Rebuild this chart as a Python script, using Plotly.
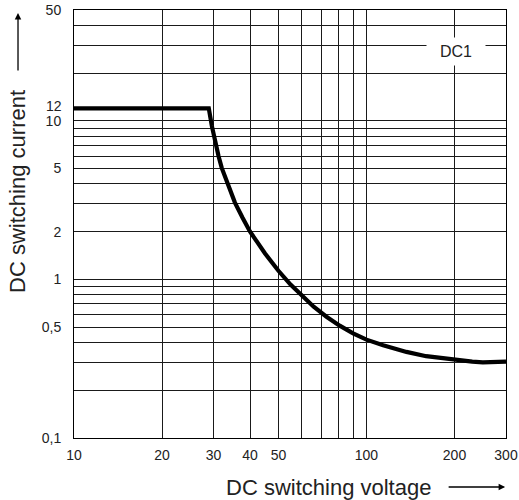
import math
import plotly.graph_objects as go

# Curve data (DC1 load limit)
voltage = [10, 28.9, 29.6, 30.5, 31.2, 32.0, 33.5, 35.5, 37.7, 40, 45, 50, 55, 60, 66, 73, 81, 90,
           100, 114, 125, 137, 160, 193, 203, 230, 250, 275, 300]
current = [12, 12, 9.3, 7.1, 6.0, 5.05, 4.0, 3.05, 2.45, 2.0, 1.457, 1.134, 0.928, 0.789, 0.673, 0.582, 0.511, 0.457,
           0.417, 0.385, 0.364, 0.349, 0.328, 0.314, 0.310, 0.303, 0.300, 0.300, 0.303]

# Axis grid / tick definitions
x_grid = [10, 20, 30, 40, 50, 60, 70, 80, 90, 100, 200, 300]
x_labels = ["10", "20", "30", "40", "50", "", "", "", "", "100", "200", "300"]
y_grid = [0.1, 0.2, 0.3, 0.4, 0.5, 0.6, 0.7, 0.8, 0.9, 1, 2, 3, 4, 5, 6, 7, 8, 9, 10, 20, 30, 40, 50]
y_labels = ["0,1", "", "", "", "0,5", "", "", "", "", "1", "2", "", "", "5", "", "", "", "", "10", "", "", "", "50"]
extra_y_label = 12
series_name = "DC1"
label_pos = (202, 27.5)

FONT = "Arial, Liberation Sans, sans-serif"
GRID = "#1a1a1a"

fig = go.Figure()
fig.add_trace(go.Scatter(
    x=voltage, y=current, mode="lines",
    line=dict(color="black", width=4.2, shape="linear"),
    showlegend=False, hoverinfo="skip",
))

fig.update_xaxes(
    type="log", range=[math.log10(10), math.log10(300)],
    tickmode="array", tickvals=x_grid, ticktext=x_labels,
    showgrid=True, gridcolor=GRID, gridwidth=1,
    showline=True, linecolor="black", linewidth=1, mirror=True,
    ticks="", ticklabelstandoff=4, automargin=False,
    tickfont=dict(family=FONT, size=14, color="#222"),
    zeroline=False,
)
fig.update_yaxes(
    type="log", range=[math.log10(0.1), math.log10(50)],
    tickmode="array", tickvals=y_grid, ticktext=y_labels,
    showgrid=True, gridcolor=GRID, gridwidth=1,
    showline=True, linecolor="black", linewidth=1, mirror=True,
    ticks="", ticklabelstandoff=9, automargin=False,
    tickfont=dict(family=FONT, size=14, color="#222"),
    zeroline=False,
)

annotations = [
    # extra "12" tick label without grid line
    dict(xref="paper", yref="y", x=0, y=math.log10(extra_y_label), text=str(extra_y_label),
         showarrow=False, xanchor="right", yanchor="middle", xshift=-10, yshift=2,
         font=dict(family=FONT, size=14, color="#222")),
    # DC1 label with white box
    dict(xref="x", yref="y", x=math.log10(label_pos[0]), y=math.log10(label_pos[1]), text=series_name,
         showarrow=False, bgcolor="white", width=58, height=27, borderpad=0,
         font=dict(family=FONT, size=16, color="#222")),
    # y-axis title
    dict(xref="paper", yref="paper", x=-0.1296, y=0.575, text="DC switching current",
         textangle=-90, showarrow=False, xanchor="center", yanchor="middle",
         font=dict(family=FONT, size=22, color="#222")),
    dict(xref="paper", yref="paper", x=-0.1296, y=0.993, text="", showarrow=True,
         ax=0, ay=59, arrowhead=2, arrowsize=1, arrowwidth=1.3, arrowcolor="black"),
    # x-axis title
    dict(xref="paper", yref="paper", x=0.588, y=-0.1145, text="DC switching voltage",
         showarrow=False, xanchor="center", yanchor="middle",
         font=dict(family=FONT, size=22, color="#222")),
    dict(xref="paper", yref="paper", x=0.998, y=-0.1145, text="", showarrow=True,
         ax=-58, ay=0, arrowhead=2, arrowsize=1, arrowwidth=1.3, arrowcolor="black"),
]

fig.update_layout(
    width=519, height=500,
    margin=dict(l=74, r=13, t=10, b=62, autoexpand=False),
    paper_bgcolor="white", plot_bgcolor="white",
    annotations=annotations,
    showlegend=False,
)

fig.write_html("out.html", config={"displayModeBar": False},
               post_script="document.body.style.margin='0px';")
